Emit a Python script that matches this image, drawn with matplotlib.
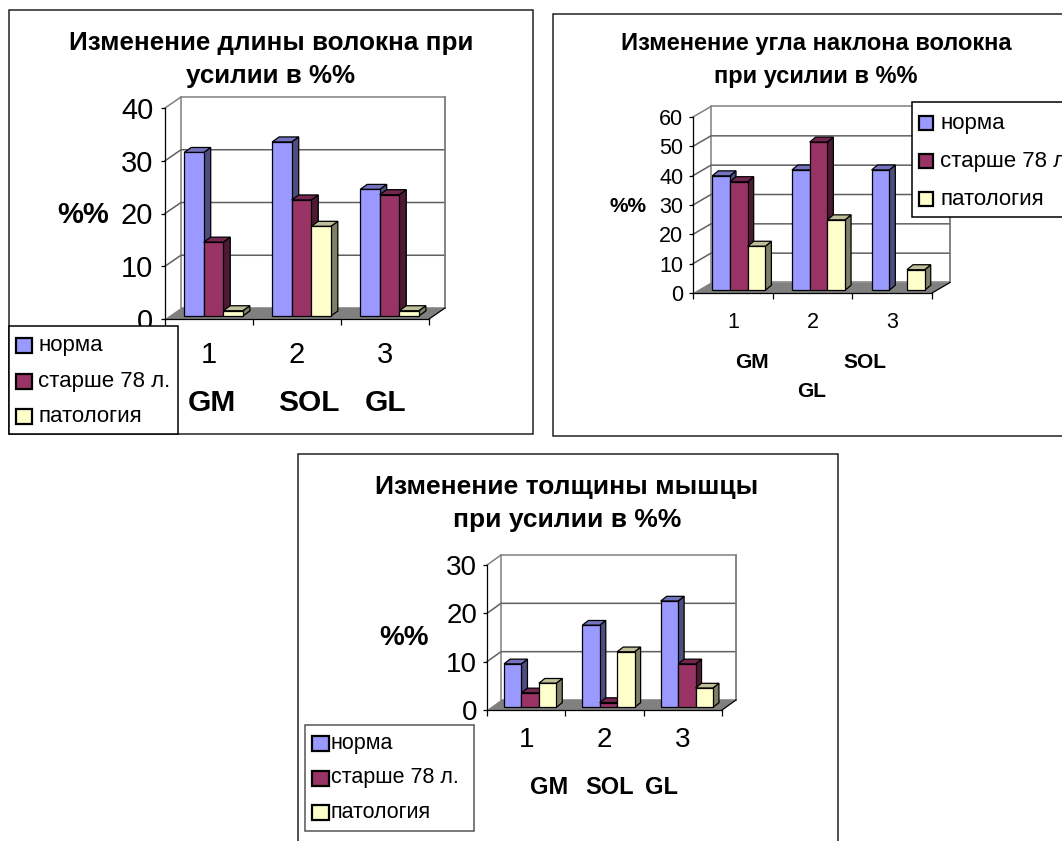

# Three pseudo-3D bar charts on one page
import matplotlib
matplotlib.use("Agg")
import matplotlib.pyplot as plt
from matplotlib.patches import Rectangle

plt.rcParams['font.family'] = ['Liberation Sans', 'DejaVu Sans']

# Data
series_names = ["норма", "старше 78 л.", "патология"]
group_ticks = ["1", "2", "3"]
muscle_names = ["GM", "SOL", "GL"]

length_norm = [31, 33, 24]
length_old = [14, 22, 23]
length_path = [1, 17, 1]

angle_norm = [39, 41, 41]
angle_old = [37, 50.5, 0]
angle_path = [15, 24, 7]

thick_norm = [9, 17, 22]
thick_old = [3, 1, 9]
thick_path = [5, 11.5, 4]

length_yticks = [0, 10, 20, 30, 40]
angle_yticks = [0, 10, 20, 30, 40, 50, 60]
thick_yticks = [0, 10, 20, 30]

# Colours of front, side and top of the bars
front_colors = ['#9999FF', '#993366', '#FFFFCC']
side_colors = ['#4D4D80', '#4D1A33', '#808066']
top_colors = ['#7373BF', '#732650', '#BFBF99']

W, H = 1062, 841
fig = plt.figure(figsize=(W / 100, H / 100), dpi=100, facecolor='white')

# Page axes in pixels, one below the charts and one above them
under = fig.add_axes([0, 0, 1, 1], zorder=0)
over = fig.add_axes([0, 0, 1, 1], zorder=10)
for a in (under, over):
    a.set_xlim(0, W)
    a.set_ylim(H, 0)
    a.axis('off')
    a.patch.set_alpha(0)


def draw_chart(values, yticks, x0, x1, y_top, y0, depth, bar_depth, tick_size, tick_pad, x_pad):
    ax = fig.add_axes([x0 / W, 1 - y0 / H, (x1 - x0) / W, (y0 - y_top) / H], zorder=5)
    ax.set_xlim(0, 3)
    ax.set_ylim(0, yticks[-1])
    ax.patch.set_alpha(0)

    # pixels to data units
    px = 3 / (x1 - x0)
    py = yticks[-1] / (y0 - y_top)
    dx, dy = depth[0] * px, depth[1] * py
    bx, by = bar_depth[0] * px, bar_depth[1] * py
    ymax = yticks[-1]

    # Back wall and its grid lines
    ax.fill([dx, 3 + dx, 3 + dx, dx], [dy, dy, ymax + dy, ymax + dy], fc='white', ec='#808080',
            lw=1.1, clip_on=False, zorder=1)
    ax.plot([0, dx], [ymax, ymax + dy], color='#808080', lw=1.1, clip_on=False, zorder=1)
    for t in yticks[1:-1]:
        ax.plot([0, dx, 3 + dx], [t, t + dy, t + dy], color='#606060', lw=1.1, clip_on=False, zorder=1)
    ax.plot([3 + dx, 3 + dx], [dy, ymax + dy], color='#808080', lw=1.1, clip_on=False, zorder=1)

    # Floor
    ax.fill([0, 3, 3 + dx, dx], [0, 0, dy, dy], fc='#808080', ec='none', clip_on=False, zorder=2)
    ax.plot([3, 3 + dx], [0, dy], color='black', lw=0.9, clip_on=False, zorder=2)

    # Bars, left to right so that each one hides the side of the one before
    bar_w = 1 / 4.5
    off_x, off_y = (dx - bx) / 2, (dy - by) / 2
    z = 3
    for g in range(3):
        for s in range(3):
            v = values[s][g]
            if v == 0:
                continue
            left = g + 0.75 * bar_w + s * bar_w + off_x
            right = left + bar_w
            top = v + off_y
            ax.bar(left, v, bar_w, bottom=off_y, align='edge', color=front_colors[s], edgecolor='black',
                   lw=0.9, clip_on=False, zorder=z + 0.2)
            ax.fill([right, right + bx, right + bx, right], [off_y, off_y + by, top + by, top],
                    fc=side_colors[s], ec='black', lw=0.9, clip_on=False, zorder=z)
            ax.fill([left, right, right + bx, left + bx], [top, top, top + by, top + by],
                    fc=top_colors[s], ec='black', lw=0.9, clip_on=False, zorder=z)
            z += 1

    # Axes
    for name in ('top', 'right'):
        ax.spines[name].set_visible(False)
    for name in ('left', 'bottom'):
        ax.spines[name].set_linewidth(0.9)
        ax.spines[name].set_zorder(2.5)
    ax.set_yticks(yticks)
    ax.tick_params(axis='y', length=3, width=0.9, pad=tick_pad, labelsize=tick_size)
    ax.set_xticks([0, 1, 2, 3])
    ax.set_xticklabels([])
    ax.set_xticks([0.5, 1.5, 2.5], labels=group_ticks, minor=True)
    ax.tick_params(axis='x', which='major', length=4.5, width=0.9)
    ax.tick_params(axis='x', which='minor', length=0, pad=x_pad, labelsize=tick_size)
    return ax


def draw_frame(x0, y0, x1, y1):
    under.add_patch(Rectangle((x0, y0), x1 - x0, y1 - y0, fc='white', ec='#222222', lw=1.1))


def draw_legend(box, edge, swatch_x, swatch_w, swatch_h, rows, text_x, size):
    over.add_patch(Rectangle((box[0], box[1]), box[2] - box[0], box[3] - box[1], fc='white', ec=edge, lw=1.1))
    for i in range(3):
        over.add_patch(Rectangle((swatch_x, rows[i] - swatch_h / 2), swatch_w, swatch_h, fc=front_colors[i],
                                 ec='black', lw=1.6))
        over.text(text_x, rows[i], series_names[i], fontsize=size, va='center', ha='left', color='black')


def draw_labels(title, title_x, title_y, title_size, pct, pct_size, names, name_size):
    for line, y in zip(title, title_y):
        over.text(title_x, y, line, fontsize=title_size, fontweight='bold', ha='center', va='center')
    over.text(pct[0], pct[1], "%%", fontsize=pct_size, fontweight='bold', ha='center', va='center')
    for label, (x, y) in zip(muscle_names, names):
        over.text(x, y, label, fontsize=name_size, fontweight='bold', ha='center', va='center')


# Chart 1: fibre length
draw_frame(9, 10, 533, 434)
draw_chart([length_norm, length_old, length_path], length_yticks, 165, 429, 108, 319,
           (16, 11), (7, 5), 21, 5.5, 16)
draw_legend((9, 326, 178, 434), 'black', 16, 16, 15, [345, 381, 416], 38, 16)
draw_labels(["Изменение длины волокна при", "усилии в %%"], 271, [43, 76], 18.7, (83, 215), 21,
            [(212, 403), (309, 403), (386, 403)], 21.5)

# Chart 2: fibre angle
draw_frame(553, 14, 1100, 436)
draw_chart([angle_norm, angle_old, angle_path], angle_yticks, 693, 932, 117, 293,
           (18, 10.5), (6, 5), 15.5, 4, 13.5)
draw_legend((912, 102, 1100, 217), 'black', 919, 14, 14, [123, 161, 199], 940, 16)
draw_labels(["Изменение угла наклона волокна", "при усилии в %%"], 816, [43, 76], 17, (628, 206), 15,
            [(752, 362), (865, 362), (812, 391)], 15)

# Chart 3: muscle thickness
draw_frame(298, 454, 838, 860)
draw_chart([thick_norm, thick_old, thick_path], thick_yticks, 487, 722, 565, 710,
           (14, 10), (6, 4.7), 20, 4, 12)
draw_legend((305, 725, 474, 831), '#555555', 312, 17, 15, [743, 778, 812], 331, 15.5)
draw_labels(["Изменение толщины мышцы", "при усилии в %%"], 567, [487, 520], 19, (404, 638), 20,
            [(549, 787), (610, 787), (662, 787)], 17)

fig.savefig("out.png", dpi=100)
